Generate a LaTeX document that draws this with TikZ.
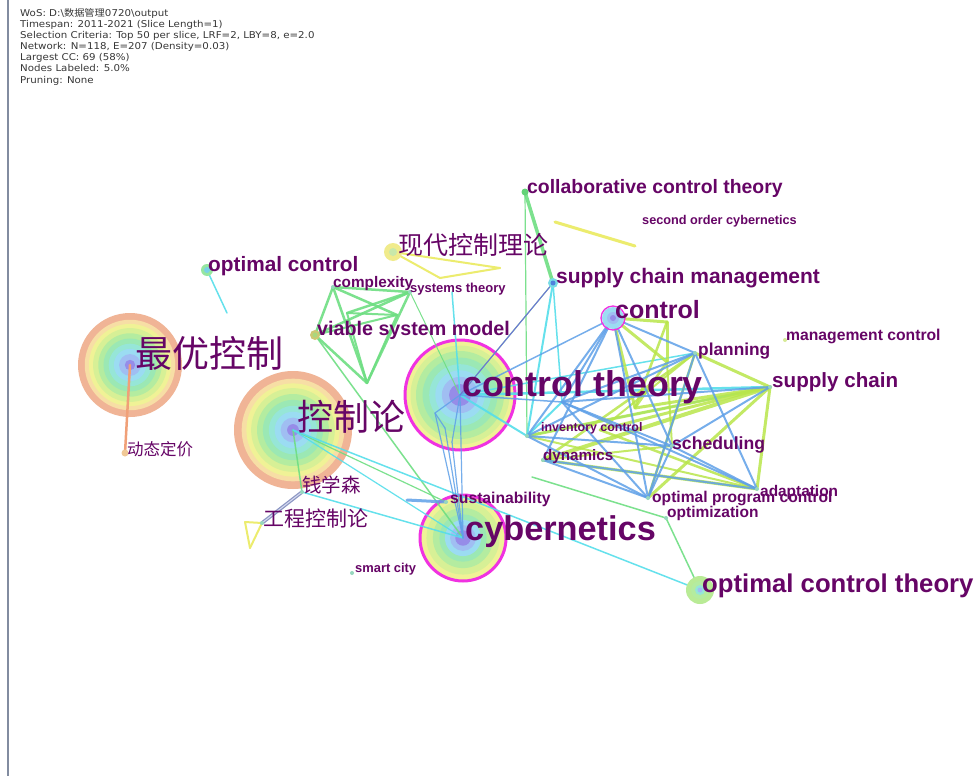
\documentclass[tikz,border=0pt]{standalone}
\usepackage{fontspec}
\setmainfont{Liberation Sans}
\newfontfamily\cjkf{Noto Sans CJK SC}
\newfontfamily\hdrf{DejaVu Sans}
\usepackage{graphicx}
\definecolor{lblc}{RGB}{102,5,102}
\definecolor{hdrc}{RGB}{55,55,55}
\definecolor{framec}{RGB}{130,140,160}
\definecolor{eG}{RGB}{110,222,130}
\definecolor{eC}{RGB}{85,222,235}
\definecolor{eB}{RGB}{95,160,232}
\definecolor{eP}{RGB}{110,110,220}
\definecolor{eY}{RGB}{185,230,75}
\definecolor{eYl}{RGB}{236,236,110}
\definecolor{eS}{RGB}{240,160,120}
\definecolor{eGrA}{RGB}{140,150,195}
\definecolor{eGrB}{RGB}{215,220,240}
\definecolor{magc}{RGB}{240,50,225}
\definecolor{ra}{RGB}{240,180,150}
\definecolor{rb}{RGB}{247,222,165}
\definecolor{rc}{RGB}{240,242,150}
\definecolor{rd}{RGB}{215,240,150}
\definecolor{re}{RGB}{180,236,160}
\definecolor{rf}{RGB}{155,232,180}
\definecolor{rg}{RGB}{150,230,215}
\definecolor{rh}{RGB}{155,220,242}
\definecolor{ri}{RGB}{160,190,242}
\definecolor{rj}{RGB}{150,140,232}
\definecolor{dOct}{RGB}{185,235,150}
\definecolor{dScmA}{RGB}{120,220,230}
\definecolor{dScmB}{RGB}{80,130,220}
\definecolor{dCc}{RGB}{100,210,120}
\definecolor{dXdA}{RGB}{240,235,140}
\definecolor{dXdB}{RGB}{200,232,170}
\definecolor{dOcA}{RGB}{150,230,160}
\definecolor{dOcB}{RGB}{120,210,230}
\definecolor{dVsA}{RGB}{205,200,115}
\definecolor{dVsB}{RGB}{170,215,125}
\definecolor{dDt}{RGB}{240,200,150}
\definecolor{dSm}{RGB}{150,215,190}
\definecolor{dMc}{RGB}{215,235,150}
\begin{document}
\begin{tikzpicture}[x=1pt,y=-1pt,line cap=round,line join=round,
  kw/.style={text=lblc,inner sep=0pt,anchor=base west,font=\bfseries\fontsize{#1}{#1}\selectfont},
  kwc/.style={text=lblc,inner sep=0pt,anchor=west,font=\cjkf\fontsize{#1}{#1}\selectfont},
  hdr/.style={text=hdrc,inner sep=0pt,anchor=base west,font=\hdrf\fontsize{9.4}{11}\selectfont},
  eg/.style={draw=eG,line width=#1,draw opacity=.9},
  ec/.style={draw=eC,line width=#1,draw opacity=.9},
  eb/.style={draw=eB,line width=#1,draw opacity=.85},
  ey/.style={draw=eY,line width=#1,draw opacity=.85},
  eyl/.style={draw=eYl,line width=#1},
]
\fill[white] (0,0) rectangle (977,776);
\useasboundingbox (0,0) rectangle (977,776);
% frame line
\coordinate (vt) at (8,0);
\coordinate (vb) at (8,776);
\draw[draw=framec,line width=1.5] (vt) -- (vb);
% header
\node[hdr] (h1) at (20,17) {\scalebox{1.09}[1]{WoS: D:\textbackslash{\cjkf 数据管理}0720\textbackslash output}};
\node[hdr] (h2) at (20,28) {\scalebox{1.09}[1]{Timespan: 2011-2021 (Slice Length=1)}};
\node[hdr] (h3) at (20,39) {\scalebox{1.09}[1]{Selection Criteria: Top 50 per slice, LRF=2, LBY=8, e=2.0}};
\node[hdr] (h4) at (20,50) {\scalebox{1.09}[1]{Network: N=118, E=207 (Density=0.03)}};
\node[hdr] (h5) at (20,61) {\scalebox{1.09}[1]{Largest CC: 69 (58\%)}};
\node[hdr] (h6) at (20,72) {\scalebox{1.09}[1]{Nodes Labeled: 5.0\%}};
\node[hdr] (h7) at (20,83) {\scalebox{1.09}[1]{Pruning: None}};
% node positions
\coordinate (zy) at (130,365);
\coordinate (kzl) at (293,430);
\coordinate (ct) at (460,395);
\coordinate (cy) at (463,538);
\coordinate (oct) at (700,590);
\coordinate (ctl) at (613,318);
\coordinate (scm) at (553,283);
\coordinate (ccth) at (525,192);
\coordinate (xd) at (393,252);
\coordinate (oc) at (207,270);
\coordinate (ocE) at (227,313);
\coordinate (cx) at (333,287);
\coordinate (st) at (410,292);
\coordinate (stE) at (452,292);
\coordinate (vsm) at (315,335);
\coordinate (m1) at (347,313);
\coordinate (m2) at (397,315);
\coordinate (p1) at (367,383);
\coordinate (dt) at (125,453);
\coordinate (qxs) at (302,492);
\coordinate (gc) at (262,523);
\coordinate (t1) at (245,522);
\coordinate (t2) at (250,548);
\coordinate (smc) at (352,573);
\coordinate (sus) at (446,502);
\coordinate (susE) at (407,500);
\coordinate (inv) at (527,436);
\coordinate (dyn) at (543,460);
\coordinate (sch) at (672,446);
\coordinate (pl) at (695,353);
\coordinate (sc) at (770,387);
\coordinate (mc) at (785,340);
\coordinate (ad) at (757,489);
\coordinate (opc) at (648,498);
\coordinate (opt) at (666,518);
\coordinate (hb) at (562,402);
\coordinate (q1) at (667,322);
\coordinate (q2) at (667,362);
\coordinate (q3) at (635,408);
\coordinate (q4) at (600,430);
\coordinate (a1) at (435,413);
\coordinate (a2) at (445,428);
\coordinate (a3) at (452,442);
\coordinate (x1) at (500,268);
\coordinate (x2) at (440,278);
\coordinate (y1) at (555,222);
\coordinate (y2) at (635,246);
\coordinate (g1) at (532,477);
% big node rings
\foreach \f/\c in {1/ra,.87/rb,.79/rc,.71/rd,.61/re,.51/rf,.41/rg,.31/rh,.21/ri,.1/rj}
  \fill[\c] (zy) circle ({52*\f});
\foreach \f/\c in {1/ra,.87/rb,.79/rc,.71/rd,.61/re,.51/rf,.41/rg,.31/rh,.21/ri,.1/rj}
  \fill[\c] (kzl) circle ({59*\f});
\foreach \f/\c in {1/rc,.9/rd,.8/re,.68/rf,.56/rg,.45/rh,.33/ri,.2/rj}
  \fill[\c] (ct) circle ({55*\f});
\draw[magc,line width=3] (ct) circle (55);
\foreach \f/\c in {1/rc,.85/rd,.7/re,.55/rf,.42/rh,.3/ri,.18/rj}
  \fill[\c] (cy) circle ({43*\f});
\draw[magc,line width=3] (cy) circle (43);
% edges: green
\foreach \a/\b/\w in {cx/st/2.5,cx/vsm/2.5,cx/p1/2.5,cx/m2/2.5,st/m1/2.5,st/vsm/2.5,st/p1/2.5,
  vsm/p1/2.5,m1/m2/2,m1/p1/2,m2/p1/2,vsm/m2/2,vsm/cy/1.5,kzl/qxs/1.5,kzl/sus/1.2,st/ct/1,
  ccth/scm/3.5,ccth/inv/1.2,scm/ct/1.2,opt/oct/1.5,g1/opt/1.5}
  \draw[eg=\w] (\a) -- (\b);
% edges: cyan
\foreach \a/\b/\w in {oc/ocE/1.5,stE/ct/1.5,scm/inv/2,scm/hb/1.5,ct/sc/2.5,ct/inv/2,ct/pl/1.5,
  inv/hb/2,qxs/cy/1.5,kzl/cy/1.2,kzl/oct/1.5,inv/sc/2}
  \draw[ec=\w] (\a) -- (\b);
% edges: yellow-green
\foreach \a/\b/\w in {ctl/q1/3,q1/q2/3,ctl/q2/3,ctl/q3/3,q1/q3/2.5,q2/q3/2.5,sc/pl/3,sc/dyn/4,
  sc/inv/3,sc/opc/3,sc/ad/3,pl/dyn/2.5,pl/opc/2.5,dyn/ad/3,inv/ad/2,dyn/sch/2,q2/sch/2,sc/q3/3,
  sc/q4/3,q4/ad/2.5,pl/q4/2}
  \draw[ey=\w] (\a) -- (\b);
% edges: blue
\foreach \a/\b/\w in {ct/ctl/1.5,ct/a1/1.2,a1/a2/1.2,a1/cy/1.2,a2/cy/1.2,a3/cy/1.2,ct/a3/1.2,ct/cy/1.2,
  sus/susE/3,ctl/pl/2,ctl/hb/2,ctl/dyn/2,ctl/opc/2,ctl/sch/2,ctl/inv/2,pl/hb/2,pl/opc/2,pl/ad/2,
  pl/inv/2,sc/hb/2,sc/sch/2,hb/opc/2,hb/sch/2,hb/ad/2,dyn/opc/2,dyn/ad/2,inv/opc/2,inv/sch/2,
  sch/opc/2,sch/ad/2,ct/hb/1.5}
  \draw[eb=\w] (\a) -- (\b);
\draw[draw=eP,line width=1] (scm) -- (ct);
% edges: yellow
\foreach \a/\b/\w in {xd/x1/2,xd/x2/2,x2/x1/2,y1/y2/3,t1/t2/2,t2/gc/2,t1/gc/2}
  \draw[eyl=\w] (\a) -- (\b);
\draw[draw=eS,line width=2.5] (zy) -- (dt);
\draw[draw=eGrA,line width=3.5] (qxs) -- (gc);
\draw[draw=eGrB,line width=1] (qxs) -- (gc);
% small node dots
\fill[dOct] (oct) circle (14);
\fill[re] (oct) circle (9);
\fill[rg] (oct) circle (5);
\fill[ri] (oct) circle (2.5);
\fill[rh] (ctl) circle (11);
\fill[ri] (ctl) circle (6);
\fill[rj] (ctl) circle (3);
\draw[magc,line width=1.3] (ctl) circle (12);
\fill[dScmA] (scm) circle (5);
\fill[dScmB] (scm) circle (2.5);
\fill[dCc] (ccth) circle (3.5);
\fill[dXdA] (xd) circle (9);
\fill[dXdB] (xd) circle (4);
\fill[dOcA] (oc) circle (6);
\fill[dOcB] (oc) circle (3);
\fill[dVsA] (vsm) circle (5);
\fill[dVsB] (vsm) circle (2.5);
\fill[dDt] (dt) circle (3.5);
\foreach \n in {cx,st,qxs,gc,smc,sus,inv,dyn,sch,pl,sc,ad,opc,opt}
  \fill[dSm] (\n) circle (2);
\fill[dMc] (mc) circle (2);
% labels
\node[kw=35.8] (ctL) at (462,396) {control theory};
\node[kw=34.3] (cyL) at (465,540) {cybernetics};
\node[kw=25.7] (octL) at (702,592) {optimal control theory};
\node[kw=21] (scmL) at (556,283) {supply chain management};
\node[kw=19.4] (ccthL) at (527,193) {collaborative control theory};
\node[kw=25] (ctlL) at (615,318) {control};
\node[kw=20.8] (ocL) at (208,271) {optimal control};
\node[kw=19.7] (vsmL) at (317,335) {viable system model};
\node[kw=20.6] (scL) at (772,387) {supply chain};
\node[kw=17.3] (plL) at (698,355) {planning};
\node[kw=17.6] (schL) at (672,449) {scheduling};
\node[kw=15.3] (cxL) at (333,287) {complexity};
\node[kw=13] (stL) at (410,292) {systems theory};
\node[kw=15.7] (mcL) at (786,340) {management control};
\node[kw=12.7] (socL) at (642,224) {second order cybernetics};
\node[kw=12.4] (invL) at (541,431) {inventory control};
\node[kw=15.2] (dynL) at (543,460) {dynamics};
\node[kw=15.7] (susL) at (450,503) {sustainability};
\node[kw=15.4] (adL) at (760,496) {adaptation};
\node[kw=15.6] (opcL) at (652,502) {optimal program control};
\node[kw=15.5] (optL) at (667,517) {optimization};
\node[kw=12.9] (smcL) at (355,572) {smart city};
\node[kwc=37] (zyL) at (135,353) {最优控制};
\node[kwc=36] (kzlL) at (297,417) {控制论};
\node[kwc=25] (xdL) at (398,245) {现代控制理论};
\node[kwc=16.5] (dtL) at (127,449) {动态定价};
\node[kwc=19.5] (qxsL) at (302,485) {钱学森};
\node[kwc=21] (gcL) at (263,518) {工程控制论};
\end{tikzpicture}
\end{document}
